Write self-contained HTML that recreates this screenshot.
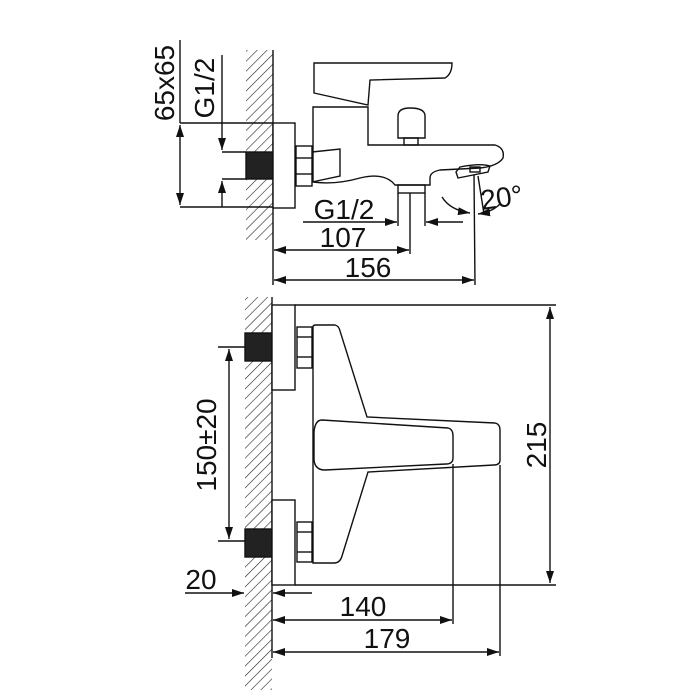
<!DOCTYPE html>
<html><head><style>
html,body{margin:0;padding:0;background:#fff;width:700px;height:700px;overflow:hidden}
text{font-family:"Liberation Sans",sans-serif;font-size:28px;fill:#111}
</style></head><body>
<svg width="700" height="700" viewBox="0 0 700 700" xmlns="http://www.w3.org/2000/svg">
<defs>
<pattern id="h" width="7" height="7" patternUnits="userSpaceOnUse" patternTransform="rotate(45)">
<line x1="0" y1="0" x2="0" y2="7" stroke="#222" stroke-width="1.2"/>
</pattern>
<marker id="a" markerWidth="12" markerHeight="8" refX="12" refY="4" orient="auto" markerUnits="userSpaceOnUse">
<path d="M0,0 L12,4 L0,8 z" fill="#111"/>
</marker>
</defs>
<g fill="none" stroke="#111" stroke-width="1.4">
<!-- TOP VIEW -->
<rect x="246" y="50" width="27" height="190" fill="url(#h)" stroke="none"/>
<line x1="273" y1="50" x2="273" y2="285"/>
<rect x="246" y="152" width="27" height="27" fill="#222"/>
<rect x="273" y="123" width="22" height="85" fill="#fff"/>
<rect x="296" y="146" width="16" height="40"/>
<line x1="296" y1="158" x2="312" y2="158"/><line x1="296" y1="174" x2="312" y2="174"/>
<path d="M312,152 L340,149 L340,176 L312,182"/>
<path d="M313,182 L313,107 L368,107 L368,145 L495,145 Q505,148 503,158 Q498,166 480,168 L440,170 Q430,172 430,178 L430,185 L395,185 Q385,172 360,178 Q335,185 313,182"/>
<path d="M314,63 L314,93 L368,105 L370,80 L445,78 Q452,74 452,63 Z"/>
<path d="M398,138 L398,116 Q398,108 410,108 Q425,108 425,116 L425,138 Z"/>
<rect x="404" y="138" width="14" height="7"/>
<rect x="398" y="185" width="27" height="8"/>
<line x1="398" y1="193" x2="398" y2="226"/><line x1="425" y1="193" x2="425" y2="226"/>
<line x1="410" y1="193" x2="410" y2="254"/>
<path d="M456,172 L458,178 L488,172 L490,166 Q480,163 460,167 Z"/>
<rect x="470" y="167" width="10" height="5"/>
<line x1="474" y1="175" x2="475" y2="285"/>
<line x1="478" y1="176" x2="484" y2="214"/>
<path d="M442,197 Q450,210 470,213" marker-end="url(#a)"/>
<path d="M500,204 Q492,212 478,214" marker-end="url(#a)"/>
<line x1="180" y1="123" x2="273" y2="123"/><line x1="180" y1="207" x2="273" y2="207"/>
<line x1="180" y1="40" x2="180" y2="123"/>
<line x1="180" y1="165" x2="180" y2="125" marker-end="url(#a)"/>
<line x1="180" y1="165" x2="180" y2="205" marker-end="url(#a)"/>
<line x1="222" y1="152" x2="246" y2="152"/><line x1="222" y1="179" x2="246" y2="179"/>
<line x1="222" y1="55" x2="222" y2="150" marker-end="url(#a)"/>
<line x1="222" y1="207" x2="222" y2="181" marker-end="url(#a)"/>
<line x1="303" y1="222" x2="397" y2="222" marker-end="url(#a)"/>
<line x1="463" y1="222" x2="426" y2="222" marker-end="url(#a)"/>
<line x1="342" y1="250" x2="274" y2="250" marker-end="url(#a)"/>
<line x1="342" y1="250" x2="409" y2="250" marker-end="url(#a)"/>
<line x1="370" y1="280" x2="274" y2="280" marker-end="url(#a)"/>
<line x1="370" y1="280" x2="474" y2="280" marker-end="url(#a)"/>
<!-- BOTTOM VIEW -->
<rect x="245" y="297" width="27" height="393" fill="url(#h)" stroke="none"/>
<line x1="272" y1="297" x2="272" y2="658"/>
<rect x="245" y="333" width="27" height="28" fill="#222"/>
<rect x="245" y="529" width="27" height="28" fill="#222"/>
<rect x="272" y="305" width="23" height="85" fill="#fff"/>
<rect x="272" y="500" width="23" height="85" fill="#fff"/>
<rect x="297" y="327" width="15" height="41"/>
<line x1="297" y1="337" x2="312" y2="337"/><line x1="297" y1="357" x2="312" y2="357"/>
<rect x="297" y="522" width="15" height="40"/>
<line x1="297" y1="532" x2="312" y2="532"/><line x1="297" y1="552" x2="312" y2="552"/>
<path d="M313,563 L313,327 Q313,325 316,325 L335,325 Q339,326 340,331 L367,417 L495,423 Q500,424 500,430 L500,460 Q500,465 494,465 L368,472 L342,556 Q340,563 334,563 Z"/>
<path d="M322,420 L448,428 Q453,429 453,436 L453,458 Q453,464 446,464 L325,470 Q315,470 314,460 L314,432 Q315,420 322,420 Z" fill="#fff"/>
<line x1="453" y1="464" x2="453" y2="624"/>
<line x1="500" y1="465" x2="500" y2="656"/>
<line x1="295" y1="305" x2="556" y2="305"/><line x1="295" y1="585" x2="556" y2="585"/>
<line x1="550" y1="445" x2="550" y2="307" marker-end="url(#a)"/>
<line x1="550" y1="445" x2="550" y2="583" marker-end="url(#a)"/>
<line x1="218" y1="347" x2="245" y2="347"/><line x1="218" y1="541" x2="245" y2="541"/>
<line x1="229" y1="445" x2="229" y2="349" marker-end="url(#a)"/>
<line x1="229" y1="445" x2="229" y2="539" marker-end="url(#a)"/>
<line x1="185" y1="593" x2="244" y2="593" marker-end="url(#a)"/>
<line x1="312" y1="593" x2="273" y2="593" marker-end="url(#a)"/>
<line x1="362" y1="620" x2="273" y2="620" marker-end="url(#a)"/>
<line x1="362" y1="620" x2="452" y2="620" marker-end="url(#a)"/>
<line x1="386" y1="652" x2="273" y2="652" marker-end="url(#a)"/>
<line x1="386" y1="652" x2="499" y2="652" marker-end="url(#a)"/>
</g>
<text x="164" y="83" text-anchor="middle" transform="rotate(-90 164 83)" dy="10">65x65</text>
<text x="204" y="88" text-anchor="middle" transform="rotate(-90 204 88)" dy="10">G1/2</text>
<text x="344" y="219" text-anchor="middle">G1/2</text>
<text x="343" y="247" text-anchor="middle">107</text>
<text x="368" y="277" text-anchor="middle">156</text>
<text x="480" y="208" transform="rotate(-8 495 195)">20°</text>
<text x="206" y="445" text-anchor="middle" transform="rotate(-90 206 445)" dy="10">150±20</text>
<text x="536" y="445" text-anchor="middle" transform="rotate(-90 536 445)" dy="10">215</text>
<text x="201" y="589" text-anchor="middle">20</text>
<text x="363" y="616" text-anchor="middle">140</text>
<text x="387" y="648" text-anchor="middle">179</text>
</svg>
</body></html>
